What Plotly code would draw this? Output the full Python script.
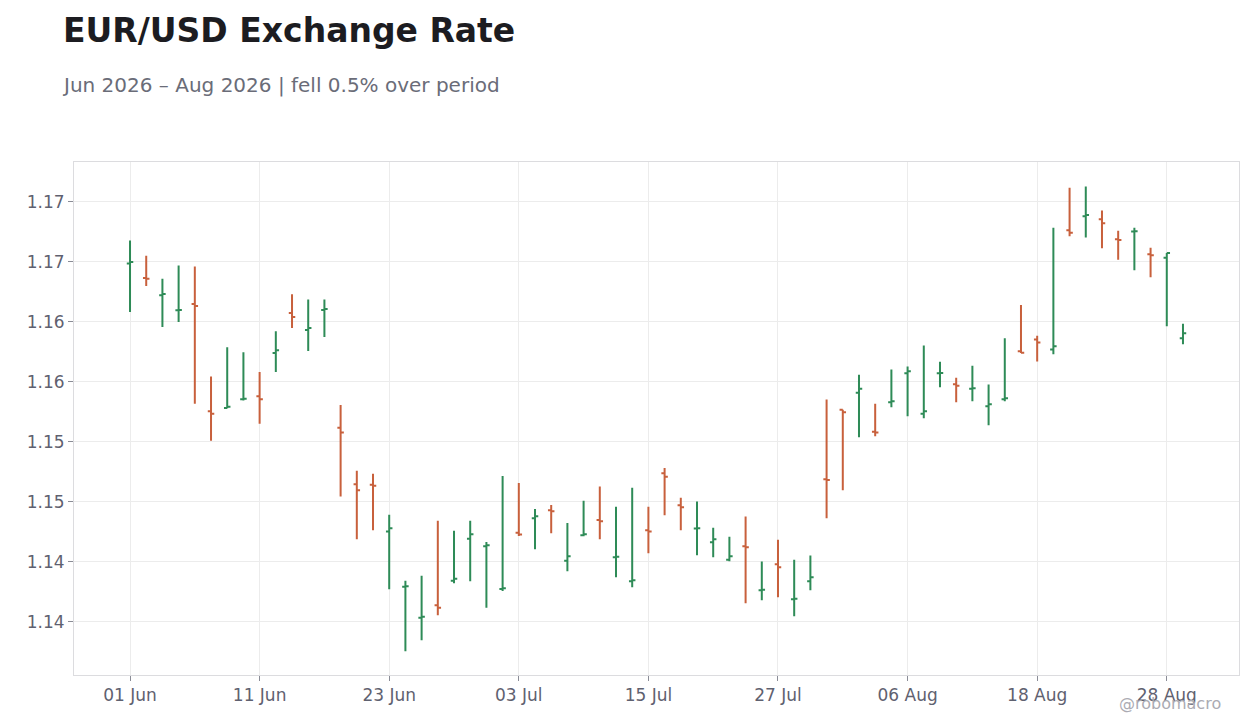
import pandas as pd
import plotly.graph_objects as go

# Business days Jun-Aug 2026 (one bar per trading day)
dates = pd.bdate_range("2026-06-01", "2026-08-31")

opens = [
    1.16488, 1.16366, 1.16222, 1.16097, 1.16150, 1.15255, 1.15283, 1.15355, 1.15380, 1.15742,
    1.16075, 1.15934, 1.16100, 1.15119, 1.14647, 1.14644, 1.14253, 1.13794, 1.13536, 1.13639,
    1.13844, 1.14194, 1.14131, 1.13775, 1.14244, 1.14364, 1.14431, 1.14011, 1.14222, 1.14350,
    1.14039, 1.13839, 1.14264, 1.14739, 1.14472, 1.14278, 1.14164, 1.14019, 1.14131, 1.13764,
    1.13981, 1.13689, 1.13839, 1.14689, 1.15269, 1.15411, 1.15086, 1.15331, 1.15572, 1.15236,
    1.15572, 1.15481, 1.15444, 1.15297, 1.15356, 1.15756, 1.15853, 1.15770, 1.16764, 1.16881,
    1.16856, 1.16689, 1.16753, 1.16564, 1.16536, 1.15864,
]
highs = [
    1.16679, 1.16551, 1.16360, 1.16471, 1.16463, 1.15546, 1.15789, 1.15748, 1.15582, 1.15922,
    1.16230, 1.16188, 1.16188, 1.15307, 1.14760, 1.14736, 1.14394, 1.13844, 1.13886, 1.14344,
    1.14261, 1.14344, 1.14167, 1.14717, 1.14658, 1.14442, 1.14475, 1.14325, 1.14511, 1.14628,
    1.14461, 1.14619, 1.14461, 1.14783, 1.14536, 1.14503, 1.14286, 1.14211, 1.14378, 1.14003,
    1.14186, 1.14019, 1.14053, 1.15353, 1.15269, 1.15561, 1.15319, 1.15603, 1.15628, 1.15803,
    1.15669, 1.15536, 1.15636, 1.15478, 1.15865, 1.16142, 1.15886, 1.16786, 1.17119, 1.17128,
    1.16928, 1.16761, 1.16786, 1.16619, 1.16575, 1.15986,
]
lows = [
    1.16083, 1.16299, 1.15958, 1.16000, 1.15319, 1.15011, 1.15280, 1.15346, 1.15152, 1.15584,
    1.15950, 1.15759, 1.15875, 1.14546, 1.14189, 1.14264, 1.13772, 1.13256, 1.13347, 1.13556,
    1.13822, 1.13839, 1.13619, 1.13758, 1.14217, 1.14106, 1.14239, 1.13922, 1.14214, 1.14189,
    1.13872, 1.13789, 1.14072, 1.14389, 1.14264, 1.14056, 1.14039, 1.14006, 1.13656, 1.13681,
    1.13706, 1.13547, 1.13764, 1.14364, 1.14597, 1.15039, 1.15047, 1.15289, 1.15214, 1.15197,
    1.15456, 1.15331, 1.15339, 1.15139, 1.15339, 1.15742, 1.15670, 1.15731, 1.16714, 1.16703,
    1.16614, 1.16519, 1.16430, 1.16372, 1.15964, 1.15814,
]
closes = [
    1.16499, 1.16360, 1.16233, 1.16100, 1.16133, 1.15235, 1.15294, 1.15360, 1.15355, 1.15765,
    1.16042, 1.15950, 1.16108, 1.15078, 1.14597, 1.14636, 1.14281, 1.13797, 1.13544, 1.13619,
    1.13861, 1.14231, 1.14139, 1.13780, 1.14228, 1.14381, 1.14422, 1.14047, 1.14231, 1.14339,
    1.14044, 1.13847, 1.14253, 1.14711, 1.14456, 1.14281, 1.14189, 1.14047, 1.14122, 1.13769,
    1.13956, 1.13694, 1.13872, 1.14683, 1.15247, 1.15444, 1.15078, 1.15339, 1.15589, 1.15256,
    1.15575, 1.15469, 1.15447, 1.15314, 1.15364, 1.15744, 1.15828, 1.15797, 1.16744, 1.16892,
    1.16822, 1.16683, 1.16756, 1.16556, 1.16575, 1.15906,
]

tick_dates = dates[::8]

UP = "#2E8B57"
DOWN = "#C8603C"
GRID = "#ECECEC"
TEXT = "#5F6170"

fig = go.Figure()
fig.add_trace(go.Ohlc(
    x=dates,
    open=opens,
    high=highs,
    low=lows,
    close=closes,
    increasing=dict(line=dict(color=UP, width=2)),
    decreasing=dict(line=dict(color=DOWN, width=2)),
    tickwidth=0.2,
    showlegend=False,
))

# the page body keeps its 8px margin, so the figure is sized to fit inside it
fig.update_layout(
    width=1244,
    height=712,
    margin=dict(l=66, r=13, t=154, b=45),
    paper_bgcolor="white",
    plot_bgcolor="white",
    font=dict(family="DejaVu Sans", size=17, color=TEXT),
    title=dict(
        text="<b>EUR/USD Exchange Rate</b>",
        x=55 / 1244, xref="container", xanchor="left",
        y=0.969, yanchor="middle",
        font=dict(size=33, color="#1C1C21"),
    ),
    annotations=[
        dict(
            text="Jun 2026 – Aug 2026 | fell 0.5% over period",
            xref="paper", yref="paper", x=-0.012, y=1.150,
            xanchor="left", yanchor="middle", showarrow=False,
            font=dict(size=20, color="#6A6C78"),
        ),
        dict(
            text="@robomacro",
            xref="paper", yref="paper", x=0.9865, y=-0.0565,
            xanchor="right", yanchor="middle", showarrow=False,
            font=dict(size=16, color="#ABABB3"),
        ),
    ],
)

fig.update_xaxes(
    type="date",
    rangebreaks=[dict(bounds=["sat", "mon"])],
    range=["2026-05-26 13:00", "2026-09-03 11:00"],
    rangeslider=dict(visible=False),
    tickvals=tick_dates,
    tickformat="%d %b",
    showgrid=True, gridcolor=GRID,
    showline=True, linecolor="#DCDCDF", mirror=True,
    ticks="outside", ticklen=5, tickcolor="#8A8C96",
)
fig.update_yaxes(
    range=[1.13058, 1.17333],
    dtick=0.005, tick0=1.135,
    tickformat=".2f",
    showgrid=True, gridcolor=GRID,
    showline=True, linecolor="#DCDCDF", mirror=True,
    ticks="outside", ticklen=5, tickcolor="#8A8C96",
    zeroline=False,
)

fig.write_html("out.html")
